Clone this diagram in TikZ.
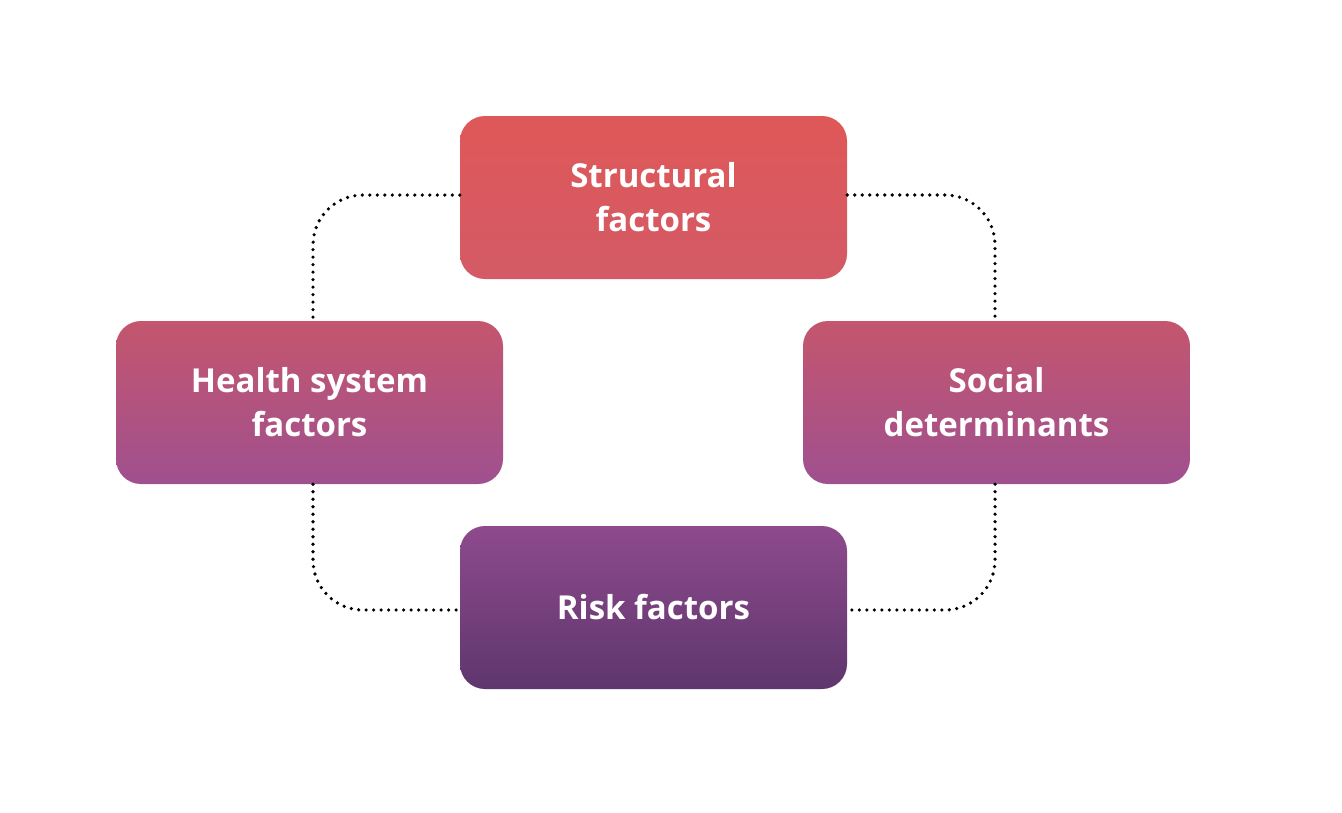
\documentclass[tikz,border=0pt]{standalone}
\usepackage{fontspec}
\setmainfont{Open Sans}
\definecolor{sT}{HTML}{DF5858}
\definecolor{sB}{HTML}{D35A66}
\definecolor{mT}{HTML}{C4566E}
\definecolor{mB}{HTML}{A0508F}
\definecolor{rT}{HTML}{8E4A8C}
\definecolor{rB}{HTML}{5E366E}
\begin{document}
\begin{tikzpicture}[x=1pt,y=-1pt,
  box/.style={rounded corners=25pt,minimum width=387pt,minimum height=163pt,inner sep=0pt,
    align=center,text=white,font=\fontsize{33}{44}\selectfont\bfseries},
  link/.style={line width=3.6pt,dash pattern=on 0pt off 7.5pt,line cap=round,rounded corners=50pt}]
\useasboundingbox (0,0) rectangle (1342,812);
\fill[white] (0,0) rectangle (1342,812);
\node[box,top color=sT,bottom color=sB] (s) at (653.5,197.5) {Structural\\factors};
\node[box,top color=mT,bottom color=mB] (h) at (309.5,402.5) {Health system\\factors};
\node[box,top color=mT,bottom color=mB] (d) at (996.5,402.5) {Social\\determinants};
\node[box,top color=rT,bottom color=rB] (r) at (653.5,607.5) {Risk factors};
\coordinate (c1) at (313,195);
\coordinate (c2) at (995,195);
\coordinate (c3) at (313,610);
\coordinate (c4) at (995,610);
\draw[link] (s.west |- c1) -- (c1) -- (c1 |- h.north);
\draw[link] (s.east |- c2) -- (c2) -- (c2 |- d.north);
\draw[link] (c3 |- h.south) -- (c3) -- (r.west |- c3);
\draw[link] (c4 |- d.south) -- (c4) -- (r.east |- c4);
\end{tikzpicture}
\end{document}
